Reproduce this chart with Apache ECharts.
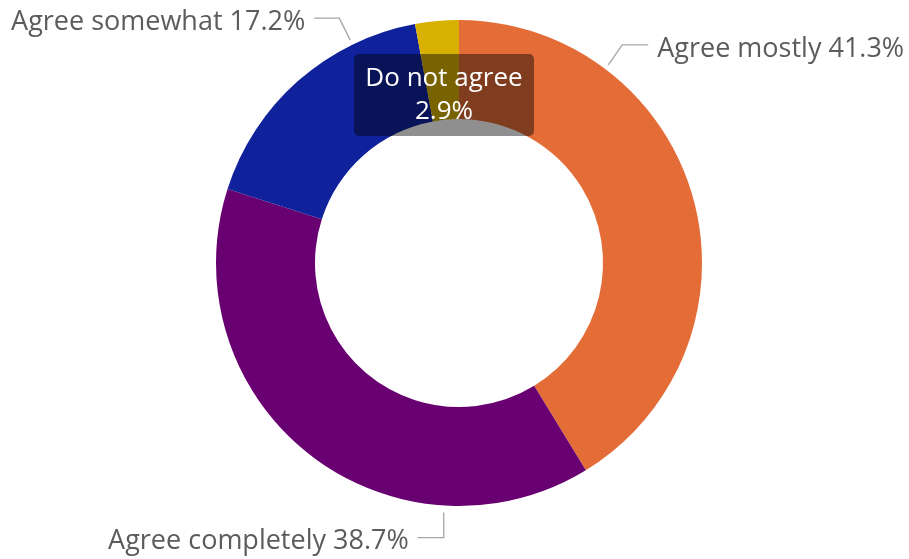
<!DOCTYPE html>
<html>
<head>
<meta charset="utf-8">
<script src="https://cdn.jsdelivr.net/npm/echarts@6/dist/echarts.min.js"></script>
<style>
  html, body { margin: 0; padding: 0; background: #fff; }
  #chart { width: 909px; height: 559px; }
</style>
</head>
<body>
<div id="chart"></div>
<script>
// Survey answers, in clockwise order from 12 o'clock
const categories = ['Agree mostly', 'Agree completely', 'Agree somewhat', 'Do not agree'];
const shares = [41.3, 38.7, 17.2, 2.9];
const colors = ['#E46C37', '#690071', '#10229B', '#D8B000'];

const FONT = '"Open Sans", "Noto Sans", sans-serif';
const TEXT_GREY = '#5c5c5c';
const LABEL_SIZE = 27;

// Ring geometry
const CX = 459, CY = 263, R_OUT = 243, R_IN = 144;

// Where each outside label sits: the angle (deg, clockwise from top) where its
// leader touches the ring, the elbow offset and the horizontal run.
const leaders = {
  'Agree mostly':     { angle: 37,  gap: 5, elbow: [14, -20], run: 26,  side: 'right' },
  'Agree completely': { angle: 183.5, gap: 7, elbow: [0, 25],  run: -26, side: 'left' },
  'Agree somewhat':   { angle: -26, gap: 5, elbow: [-11, -22], run: -25, side: 'left' }
};

const data = categories.map((name, i) => ({
  name: name,
  value: shares[i],
  itemStyle: { color: colors[i] }
}));

const chart = echarts.init(document.getElementById('chart'), null, { renderer: 'canvas' });

chart.setOption({
  animation: false,
  backgroundColor: '#ffffff',
  series: [{
    type: 'pie',
    center: [CX, CY],
    radius: [R_IN, R_OUT],
    startAngle: 90,
    clockwise: true,
    avoidLabelOverlap: false,
    data: data,
    label: {
      show: true,
      formatter: p => p.name + ' ' + p.value.toFixed(1) + '%',
      color: TEXT_GREY,
      fontFamily: FONT,
      fontSize: LABEL_SIZE
    },
    labelLine: {
      show: true,
      lineStyle: { color: '#a6a6a6', width: 1.3 }
    },
    emphasis: { disabled: true },
    labelLayout: function (params) {
      const name = categories[params.dataIndex];
      const spec = leaders[name];
      if (!spec) {
        // Callout box for the smallest slice, laid over the ring top
        return { x: CX - 15, y: CY - 168, align: 'center', verticalAlign: 'middle' };
      }
      const a = spec.angle * Math.PI / 180;
      const r = R_OUT + spec.gap;
      const p0 = [CX + r * Math.sin(a), CY - r * Math.cos(a)];
      const p1 = [p0[0] + spec.elbow[0], p0[1] + spec.elbow[1]];
      const p2 = [p1[0] + spec.run, p1[1]];
      const textGap = 9;
      return {
        x: p2[0] + (spec.side === 'right' ? textGap : -textGap),
        y: p2[1] + 4,
        align: spec.side === 'right' ? 'left' : 'right',
        verticalAlign: 'middle',
        labelLinePoints: [p0, p1, p2]
      };
    }
  }]
});

// The smallest slice carries a dark translucent callout instead of a leader line
chart.setOption({
  series: [{
    data: data.map((d, i) => i === 3 ? Object.assign({}, d, {
      label: {
        formatter: p => p.name + '\n' + p.value.toFixed(1) + '%',
        color: '#ffffff',
        fontFamily: FONT,
        fontSize: 26,
        lineHeight: 33,
        align: 'center',
        backgroundColor: 'rgba(0,0,0,0.44)',
        borderRadius: 5,
        padding: [8, 10, 8, 10],
        width: 160
      },
      labelLine: { show: false }
    }) : d)
  }]
});
</script>
</body>
</html>
